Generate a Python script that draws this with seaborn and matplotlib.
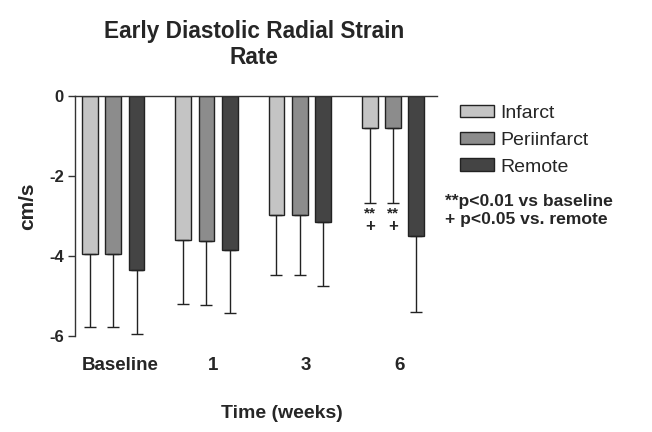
import numpy as np
import pandas as pd
import seaborn as sns
import matplotlib.pyplot as plt

# valeurs (cm/s)
times = ["Baseline", "1", "3", "6"]
regions = ["Infarct", "Periinfarct", "Remote"]
infarct = [-3.95, -3.60, -2.98, -0.81]
periinfarct = [-3.95, -3.62, -2.98, -0.81]
remote = [-4.36, -3.84, -3.14, -3.50]
# bout inférieur des barres d'erreur
infarct_err = [-5.77, -5.20, -4.48, -2.68]
periinfarct_err = [-5.77, -5.22, -4.48, -2.68]
remote_err = [-5.96, -5.43, -4.74, -5.40]
colors = ["#c4c4c4", "#8c8c8c", "#444444"]

sns.set_theme(style="white")
plt.rcParams["font.family"] = ["Liberation Sans", "DejaVu Sans"]

df = pd.DataFrame({
    "time": np.repeat(times, 3),
    "region": regions * 4,
    "value": [v for row in zip(infarct, periinfarct, remote) for v in row],
    "err": [v for row in zip(infarct_err, periinfarct_err, remote_err) for v in row],
})

fig = plt.figure(figsize=(6.52, 4.32), dpi=100)
ax = fig.add_axes([0.115, 0.222, 0.555, 0.556])

sns.barplot(data=df, x="time", y="value", hue="region", order=times,
            hue_order=regions, palette=colors, width=0.75, gap=0.32,
            edgecolor="#222222", linewidth=1, errorbar=None, legend=False, ax=ax)

# barres d'erreur vers le bas seulement
for i, reg in enumerate(regions):
    sub = df[df.region == reg].set_index("time").loc[times]
    xs = np.arange(len(times)) + (i - 1) * 0.25
    lower = (sub["value"] - sub["err"]).values
    ax.errorbar(xs, sub["value"].values, yerr=[lower, np.zeros(len(xs))],
                fmt="none", ecolor="#222222", elinewidth=1, capsize=4, capthick=1)

# significativité semaine 6
for i in [0, 1]:
    x = 3 + (i - 1) * 0.25
    ax.text(x, -2.76, "**", ha="center", va="top", fontsize=11, fontweight="bold")
    ax.text(x, -3.08, "+", ha="center", va="top", fontsize=12, fontweight="bold")

ax.set_ylim(-6, 0)
ax.set_xlim(-0.41, 3.47)
ax.set_yticks([0, -2, -4, -6])
ax.set_yticklabels(["0", "-2", "-4", "-6"], fontsize=12, fontweight="bold")
ax.tick_params(axis="y", direction="out", length=5, width=1, color="#333333", left=True, pad=3)
ax.tick_params(axis="x", length=0, pad=15)
ax.set_xticks(np.arange(len(times)) + 0.07)
ax.set_xticklabels(times, fontsize=13.5, fontweight="bold")
for s in ["right", "bottom"]:
    ax.spines[s].set_visible(False)
for s in ["left", "top"]:
    ax.spines[s].set_color("#333333")
    ax.spines[s].set_linewidth(1)

ax.set_xlabel("Time (weeks)", fontsize=14, fontweight="bold")
ax.xaxis.set_label_coords(0.572, -0.2875)
ax.set_ylabel("cm/s", fontsize=15, fontweight="bold")
ax.yaxis.set_label_coords(-0.105, 0.54)

fig.text(0.39, 0.928, "Early Diastolic Radial Strain", fontsize=16.3, fontweight="bold",
         ha="center", va="center")
fig.text(0.39, 0.868, "Rate", fontsize=16.3, fontweight="bold", ha="center", va="center")

handles = [plt.Rectangle((0, 0), 1, 1, facecolor=c, edgecolor="#222222", lw=1) for c in colors]
fig.legend(handles, regions, loc="upper left", bbox_to_anchor=(0.694, 0.775),
           frameon=False, fontsize=14, handlelength=1.75, handleheight=0.6,
           labelspacing=0.5, handletextpad=0.3, borderaxespad=0)
fig.text(0.683, 0.513, "**p<0.01 vs baseline\n+ p<0.05 vs. remote", fontsize=12.6,
         fontweight="bold", va="center", linespacing=1.22)

fig.savefig("out.png", dpi=100)
